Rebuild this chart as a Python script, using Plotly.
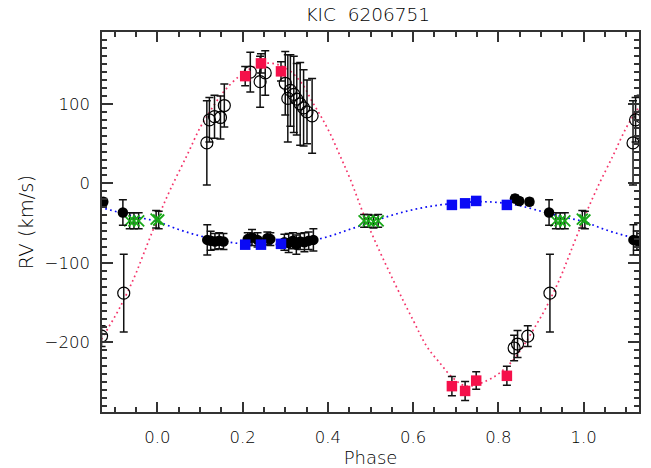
import plotly.graph_objects as go

# ---- orbital phase range shown on the x axis ----
PHASE_MIN, PHASE_MAX = -0.13, 1.13

# ---- model curves (knots over one period) ----
model_phase = [0.00, 0.03, 0.07, 0.10, 0.125, 0.155, 0.19, 0.22, 0.25, 0.28, 0.31,
               0.34, 0.363, 0.382, 0.405, 0.43, 0.452, 0.49, 0.55, 0.60, 0.632,
               0.663, 0.694, 0.726, 0.773, 0.804, 0.835, 0.858, 0.882, 0.91,
               0.945, 0.968]
model_rv_a = [-45, -8, 36, 70, 92, 115, 134, 145, 151, 150, 142,
              125, 103, 86, 63, 33, 6, -47, -118, -172, -205,
              -226, -245, -255, -248, -238, -222, -205, -184, -158,
              -119, -88]

model_phase_b = [0.00, 0.05, 0.10, 0.15, 0.20, 0.25, 0.30, 0.35, 0.40, 0.45, 0.50,
                 0.55, 0.60, 0.65, 0.70, 0.75, 0.80, 0.85, 0.90, 0.95]
model_rv_b = [-48, -58, -66, -72, -76, -77, -76, -73, -67, -58, -49,
              -40, -33, -28, -25, -23, -24, -28, -35, -42]

# ---- measurements: star A, open circles ----
a1_phase = [0.116, 0.122, 0.134, 0.148, 0.157, 0.218, 0.241, 0.253, 0.300, 0.306,
            0.312, 0.320, 0.327, 0.335, 0.343, 0.351, 0.363, 0.837, 0.845, 0.869,
            0.921]
a1_rv = [51, 80, 84, 83, 98, 140, 128, 139, 126, 107,
         117, 112, 106, 100, 95, 90, 85, -207, -202, -192,
         -138]
a1_err = [53, 28, 27, 27, 27, 25, 32, 28, 40, 55,
          45, 48, 45, 52, 48, 40, 47, 16, 17, 13,
          49]

# ---- measurements: star A, filled squares ----
a2_phase = [0.206, 0.243, 0.290, 0.691, 0.722, 0.748, 0.820]
a2_rv = [135, 151, 141, -255, -261, -248, -242]
a2_err = [12, 12, 12, 12, 12, 11, 12]

# ---- measurements: star B, filled circles ----
b1_phase = [0.117, 0.125, 0.135, 0.145, 0.155, 0.212, 0.222, 0.235, 0.258, 0.265,
            0.298, 0.308, 0.318, 0.326, 0.335, 0.345, 0.355, 0.366, 0.839, 0.849,
            0.873, 0.919]
b1_rv = [-71, -72, -73, -72, -73, -70, -68, -71, -69, -70,
         -74, -75, -72, -77, -73, -74, -72, -71, -19, -22,
         -23, -36.5]
b1_err = [19, 12, 10, 10, 10, 8, 10, 9, 8, 8,
          10, 12, 10, 12, 10, 12, 11, 14, 4, 4,
          4, 16]

# ---- measurements: star B, filled squares ----
b2_phase = [0.206, 0.243, 0.290, 0.691, 0.722, 0.748, 0.820]
b2_rv = [-77, -77, -76, -27, -25, -22, -27]

# ---- blended spectra near conjunction ----
c_phase = [0.935, 0.945, 0.956, 0.997, 0.003, 0.485, 0.495, 0.507, 0.518]
c_rv = [-47, -47, -47, -45, -46, -47, -47, -48, -47]
c_err = [10, 10, 10, 11, 11, 8, 8, 8, 8]


def wrap(phase, *cols):
    """Repeat points one period earlier/later when they fall in the plotted range."""
    out = [[] for _ in range(len(cols) + 1)]
    for i, p in enumerate(phase):
        for shift in (-1, 0, 1):
            q = p + shift
            if PHASE_MIN - 0.02 <= q <= PHASE_MAX + 0.02:
                out[0].append(q)
                for k, c in enumerate(cols):
                    out[k + 1].append(c[i])
    return out


def periodic(phase, rv):
    xs, ys = [], []
    for shift in (-1, 0, 1):
        for p, v in zip(phase, rv):
            xs.append(p + shift)
            ys.append(v)
    pairs = sorted(zip(xs, ys))
    pairs = [(x, y) for x, y in pairs if -0.3 <= x <= 1.3]
    return [p[0] for p in pairs], [p[1] for p in pairs]


RED_LINE = "#f4346a"
RED = "#f5104a"
BLUE = "#0a0af5"
GREEN = "#18a818"
INK = "#000000"

fig = go.Figure()

mx, my = periodic(model_phase, model_rv_a)
fig.add_trace(go.Scatter(x=mx, y=my, mode="lines", line_shape="spline",
                         line=dict(color=RED_LINE, width=1.7, dash="1.7px,3.3px"),
                         hoverinfo="skip"))
mx, my = periodic(model_phase_b, model_rv_b)
fig.add_trace(go.Scatter(x=mx, y=my, mode="lines", line_shape="spline",
                         line=dict(color=BLUE, width=1.7, dash="1.7px,3.3px"),
                         hoverinfo="skip"))

err_style = dict(type="data", color="#111111", thickness=1.5, width=4)

x, y, e = wrap(c_phase, c_rv, c_err)
fig.add_trace(go.Scatter(x=x, y=y, mode="markers",
                         error_y=dict(array=e, **err_style),
                         marker=dict(symbol="x-thin", size=11, color=GREEN,
                                     line=dict(color=GREEN, width=1.8))))

x, y, e = wrap(b1_phase, b1_rv, b1_err)
fig.add_trace(go.Scatter(x=x, y=y, mode="markers",
                         error_y=dict(array=e, **err_style),
                         marker=dict(symbol="circle", size=10.5, color="black")))

x, y, e = wrap(a1_phase, a1_rv, a1_err)
fig.add_trace(go.Scatter(x=x, y=y, mode="markers",
                         error_y=dict(array=e, **err_style),
                         marker=dict(symbol="circle-open", size=12, color="black",
                                     line=dict(color="black", width=1.2))))

x, y, e = wrap(a2_phase, a2_rv, a2_err)
fig.add_trace(go.Scatter(x=x, y=y, mode="markers",
                         error_y=dict(array=e, **err_style),
                         marker=dict(symbol="square", size=10.5, color=RED)))

x, y = wrap(b2_phase, b2_rv)
fig.add_trace(go.Scatter(x=x, y=y, mode="markers",
                         marker=dict(symbol="square", size=10.5, color=BLUE)))

FONT = "DejaVu Sans"
axis_common = dict(
    showline=True, linecolor="#333333", linewidth=1.5, mirror="ticks",
    ticks="inside", tickcolor="#333333", tickwidth=1.5,
    showgrid=False, zeroline=False, automargin=False,
    tickfont=dict(family=FONT, size=16.5, color=INK, weight=200),
)

fig.update_layout(
    width=651, height=468,
    margin=dict(l=102, r=12, t=32, b=56),
    paper_bgcolor="white", plot_bgcolor="white",
    showlegend=False,
    title=dict(text="KIC\u00a0\u00a06206751", x=0.565, xanchor="center",
               y=0.970, yanchor="middle", automargin=False,
               font=dict(family=FONT, size=18.5, color=INK, weight=200)),
    xaxis=dict(range=[PHASE_MIN, PHASE_MAX], tick0=0, dtick=0.2, tickformat=".1f",
               ticklen=10, ticklabelstandoff=9,
               minor=dict(dtick=0.05, tick0=0, ticks="inside", ticklen=5,
                          tickcolor="#333333", tickwidth=1.5),
               title=dict(text="Phase", standoff=8,
                          font=dict(family=FONT, size=18, color=INK, weight=200)),
               **axis_common),
    yaxis=dict(range=[-287.5, 190.5], tick0=0, dtick=100, ticklen=11,
               ticklabelstandoff=7,
               minor=dict(dtick=10, tick0=0, ticks="inside", ticklen=5,
                          tickcolor="#333333", tickwidth=1.5),
               title=dict(text="RV (km/s)", standoff=6,
                          font=dict(family=FONT, size=19.5, color=INK, weight=200)),
               **axis_common),
)

fig.write_html("out.html")
